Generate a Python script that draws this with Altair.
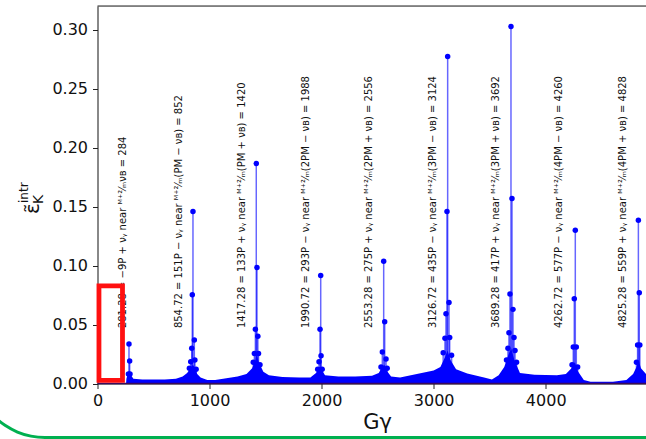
import altair as alt
import pandas as pd

# ---- data ----
# envelope of the dense low-level stems (Gγ, value)
env_x = [255, 258, 270, 284, 300, 320, 400, 600, 700, 760, 800, 830, 852, 870, 890, 920, 980,
         1050, 1150, 1250, 1330, 1380, 1410, 1420, 1440, 1480, 1530, 1650, 1800, 1900, 1950,
         1980, 2000, 2030, 2150, 2300, 2450, 2510, 2540, 2560, 2580, 2620, 2700, 2850, 3000,
         3060, 3100, 3124, 3150, 3200, 3300, 3450, 3520, 3580, 3630, 3670, 3692, 3720, 3770,
         3900, 4100, 4180, 4230, 4260, 4290, 4340, 4400, 4600, 4720, 4780, 4810, 4828, 4850, 4895]
env_y = [0.0, 0.004, 0.008, 0.010, 0.007, 0.004, 0.0035, 0.0035, 0.004, 0.006, 0.009, 0.013,
         0.016, 0.013, 0.008, 0.005, 0.003, 0.003, 0.0045, 0.006, 0.008, 0.013, 0.020, 0.025,
         0.018, 0.010, 0.007, 0.0055, 0.005, 0.005, 0.009, 0.014, 0.012, 0.007, 0.006, 0.006,
         0.0065, 0.009, 0.014, 0.016, 0.011, 0.006, 0.005, 0.008, 0.011, 0.014, 0.022, 0.028,
         0.020, 0.012, 0.0085, 0.005, 0.0035, 0.007, 0.014, 0.025, 0.030, 0.020, 0.009, 0.0075,
         0.007, 0.008, 0.013, 0.018, 0.010, 0.003, 0.0015, 0.0015, 0.003, 0.008, 0.014, 0.020,
         0.013, 0.008]

# prominent stems with markers
stem_x = [276, 281, 287, 290,
          820, 832, 841, 846, 852, 864, 869, 880,
          1390, 1400, 1409, 1417, 1423, 1431, 1437, 1450,
          1965, 1977, 1986, 1992, 1995, 2005,
          2530, 2542, 2554, 2563, 2575, 2585,
          3085, 3101, 3110, 3119, 3125, 3137, 3143, 3160,
          3650, 3663, 3672, 3681, 3690, 3699, 3708, 3717, 3726, 3740,
          4235, 4246, 4255, 4264, 4273, 4285,
          4810, 4820, 4827, 4835, 4840]
stem_y = [0.008, 0.0335, 0.019, 0.008,
          0.013, 0.0185, 0.030, 0.0753, 0.146, 0.0369, 0.020, 0.012,
          0.018, 0.0255, 0.046, 0.1866, 0.0985, 0.040, 0.0255, 0.016,
          0.012, 0.0185, 0.046, 0.0917, 0.0235, 0.012,
          0.014, 0.0267, 0.1038, 0.0524, 0.0208, 0.013,
          0.026, 0.0383, 0.0592, 0.146, 0.2775, 0.0688, 0.039, 0.024,
          0.020, 0.030, 0.043, 0.076, 0.303, 0.157, 0.0629, 0.039, 0.028, 0.018,
          0.016, 0.031, 0.0719, 0.130, 0.031, 0.014,
          0.018, 0.0326, 0.1386, 0.077, 0.0326]

labels = [
    "281.28 = −9P + νᵧ near ᴹ⁺²⁄ₘνʙ = 284",
    "854.72 = 151P − νᵧ near ᴹ⁺²⁄ₘ(PM − νʙ) = 852",
    "1417.28 = 133P + νᵧ near ᴹ⁺²⁄ₘ(PM + νʙ) = 1420",
    "1990.72 = 293P − νᵧ near ᴹ⁺²⁄ₘ(2PM − νʙ) = 1988",
    "2553.28 = 275P + νᵧ near ᴹ⁺²⁄ₘ(2PM + νʙ) = 2556",
    "3126.72 = 435P − νᵧ near ᴹ⁺²⁄ₘ(3PM − νʙ) = 3124",
    "3689.28 = 417P + νᵧ near ᴹ⁺²⁄ₘ(3PM + νʙ) = 3692",
    "4262.72 = 577P − νᵧ near ᴹ⁺²⁄ₘ(4PM − νʙ) = 4260",
    "4825.28 = 559P + νᵧ near ᴹ⁺²⁄ₘ(4PM + νʙ) = 4828",
]
label_x = [228, 726, 1287, 1860, 2426, 2997, 3557, 4121, 4687]
label_y = [0.047] * 9

box_x = [13, 223]
box_y = [0.0027, 0.0828]

x_domain = [0, 4895]
y_domain = [0, 0.3203]
x_ticks = [0, 1000, 2000, 3000, 4000]
y_ticks = [0.0, 0.05, 0.10, 0.15, 0.20, 0.25, 0.30]

# ---- chart ----
W, H = 548.5, 377.5
FONT = "DejaVu Sans"
BLUE = "#0000ff"

env_df = pd.DataFrame({"x": env_x, "y": env_y})
stem_df = pd.DataFrame({"x": stem_x, "y": stem_y, "y0": [0.0] * len(stem_x)})
lab_df = pd.DataFrame({"x": label_x, "y": label_y, "t": labels})
box_df = pd.DataFrame({"x": [box_x[0]], "x2": [box_x[1]], "y": [box_y[0]], "y2": [box_y[1]]})
one = pd.DataFrame({"a": [0]})

xs = alt.Scale(domain=x_domain, nice=False, zero=False)
ys = alt.Scale(domain=y_domain, nice=False)

x_axis = alt.Axis(values=x_ticks, format="d", title="Gγ", titleX=279.5, titleY=44.5,
                  titleBaseline="alphabetic", titleAlign="center", titleFontSize=21,
                  titleFontWeight="normal", titleFont=FONT, titleColor="#111",
                  labelFont=FONT, labelFontSize=16, labelColor="#111", labelPadding=4,
                  tickSize=5, tickColor="#222", domainColor="#222", grid=False,
                  labelFlush=False)
y_axis = alt.Axis(values=y_ticks, format=".2f", title=None, labelFont=FONT,
                  labelFontSize=16, labelColor="#111", labelPadding=5, tickSize=5,
                  tickColor="#222", domainColor="#222", grid=False)

area = alt.Chart(env_df).mark_area(color=BLUE, opacity=1).encode(
    x=alt.X("x:Q", scale=xs, axis=x_axis),
    y=alt.Y("y:Q", scale=ys, axis=y_axis),
)
stems = alt.Chart(stem_df).mark_rule(color=BLUE, strokeWidth=1.5, opacity=0.6).encode(
    x="x:Q", y="y:Q", y2="y0:Q")
dots = alt.Chart(stem_df).mark_circle(color=BLUE, size=30, opacity=1).encode(
    x="x:Q", y="y:Q")
base = alt.Chart(one).mark_rule(color="#3b0a5c", strokeWidth=1.5).encode(y=alt.datum(0))
texts = alt.Chart(lab_df).mark_text(angle=270, align="left", baseline="middle",
                                    font=FONT, fontSize=10, color="#111").encode(
    x="x:Q", y="y:Q", text="t:N")
box = alt.Chart(box_df).mark_rect(fillOpacity=0, stroke="#ff1010", strokeWidth=4.8).encode(
    x="x:Q", x2="x2:Q", y="y:Q", y2="y2:Q")
top = alt.Chart(one).mark_rule(color="#222", strokeWidth=1).encode(
    x=alt.value(0), x2=alt.value(W + 5), y=alt.value(0))

eps = alt.Chart(one).mark_text(text="ε̃", angle=270, align="left", baseline="alphabetic",
                               font=FONT, fontSize=20, color="#111").encode(
    x=alt.value(39 - 97.5), y=alt.value(214 - 6))
sub = alt.Chart(one).mark_text(text="K", angle=270, align="left", baseline="alphabetic",
                               font=FONT, fontSize=14, color="#111").encode(
    x=alt.value(43 - 97.5), y=alt.value(204 - 6))
sup = alt.Chart(one).mark_text(text="intr", angle=270, align="left", baseline="alphabetic",
                               font=FONT, fontSize=12, color="#111").encode(
    x=alt.value(28 - 97.5), y=alt.value(203 - 6))

GREEN = "#00b050"
arc = alt.Chart(one).mark_arc(theta=3.14159, theta2=4.71239, radius=73.5, radius2=70.5,
                              color=GREEN).encode(
    x=alt.value(45 - 97.5), y=alt.value(365.5 - 6))
gline = alt.Chart(one).mark_rule(color=GREEN, strokeWidth=3).encode(
    x=alt.value(45 - 97.5), x2=alt.value(W + 10), y=alt.value(437.5 - 6))

chart = alt.layer(area, stems, dots, base, texts, box, top, eps, sub, sup, arc, gline).properties(
    width=W, height=H,
    autosize=alt.AutoSizeParams(type="none"),
    padding={"left": 97.5, "top": 6, "right": 0, "bottom": 55.5},
).configure_view(stroke=None).configure(background="white")

chart.save("out.html", embed_options={"renderer": "svg", "actions": False})
